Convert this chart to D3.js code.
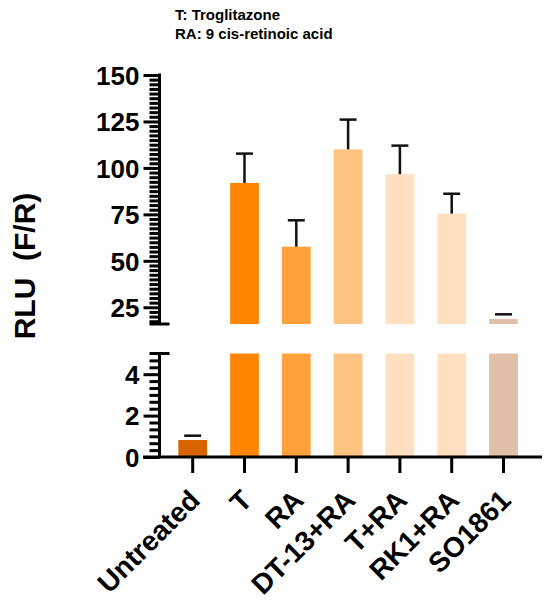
<!DOCTYPE html>
<html>
<head>
<meta charset="utf-8">
<script src="https://cdn.jsdelivr.net/npm/d3@7"></script>
<style>
  html, body { margin: 0; padding: 0; background: #fff; }
  svg text { font-family: "Liberation Sans", Arial, sans-serif; font-weight: bold; fill: #000; }
</style>
</head>
<body>
<svg id="chart" width="550" height="608"></svg>
<script>
// ---- data ----
const categories = ["Untreated", "T", "RA", "DT-13+RA", "T+RA", "RK1+RA", "SO1861"];
const means      = [0.82, 91.9, 57.6, 110, 96.6, 75.4, 18.7];
const errors     = [0.21, 15.8, 14.2, 16, 15.4, 10.7, 2.5];
const colors     = ["#d86400", "#ff8500", "#ffa13a", "#ffc381", "#ffdfbf", "#ffdfbf", "#e0bfa9"];
const upperTicks = [25, 50, 75, 100, 125, 150];
const lowerTicks = [0, 2, 4];
const legendLines = ["T: Troglitazone", "RA: 9 cis-retinoic acid"];
const yTitle = "RLU  (F/R)";

// ---- layout ----
const svg = d3.select("#chart");
const axisX = 159.5;
const x = d3.scaleBand().domain(categories).range([166.8, 529.4]).paddingInner(0.445).paddingOuter(0.2225);
const yU = d3.scaleLinear().domain([16, 150]).range([324, 75]);
const yL = d3.scaleLinear().domain([0, 5]).range([457, 353.5]);

const upperMinor = d3.range(17.5, 150.01, 2.5).filter(v => upperTicks.indexOf(v) < 0);
const lowerMinor = d3.range(1, 15).map(i => i / 3).filter(v => Math.abs(v - Math.round(v / 2) * 2) > 1e-6);

// bars: lower segment
svg.append("g").selectAll("rect").data(categories).join("rect")
  .attr("x", d => x(d))
  .attr("width", x.bandwidth())
  .attr("y", (d, i) => yL(Math.min(means[i], 5)))
  .attr("height", (d, i) => yL(0) - yL(Math.min(means[i], 5)))
  .attr("fill", (d, i) => colors[i]);

// bars: upper segment
svg.append("g").selectAll("rect").data(categories.filter((d, i) => means[i] > 16)).join("rect")
  .attr("x", d => x(d))
  .attr("width", x.bandwidth())
  .attr("y", d => yU(means[categories.indexOf(d)]))
  .attr("height", d => yU(16) - yU(means[categories.indexOf(d)]))
  .attr("fill", d => colors[categories.indexOf(d)]);

// error bars (upper only)
const eg = svg.append("g").attr("stroke", "#111").attr("stroke-width", 2.5);
categories.forEach((c, i) => {
  const ys = means[i] > 5 ? yU : yL;
  const cx = x(c) + x.bandwidth() / 2;
  const top = ys(means[i] + errors[i]);
  const bot = ys(means[i]);
  if (bot - top > 6) {
    eg.append("line").attr("x1", cx).attr("x2", cx).attr("y1", bot).attr("y2", top);
  }
  eg.append("line").attr("x1", cx - 8.5).attr("x2", cx + 8.5).attr("y1", top).attr("y2", top);
});

// y axes (minor ticks in own groups)
function yAxis(scale, minor, major, lo, hi) {
  const gm = svg.append("g").attr("transform", `translate(${axisX},0)`);
  gm.call(d3.axisLeft(scale).tickValues(minor).tickSize(10).tickSizeOuter(0).tickFormat(""));
  gm.selectAll(".domain").remove();
  const g = svg.append("g").attr("transform", `translate(${axisX},0)`);
  g.call(d3.axisLeft(scale).tickValues(major).tickSize(16).tickSizeOuter(0).tickPadding(4).tickFormat(d3.format("d")));
  g.selectAll(".domain").remove();
  g.append("line").attr("x1", 0).attr("x2", 0).attr("y1", scale(hi) - (hi === 150 ? 1.5 : 0)).attr("y2", scale(lo));
  [gm, g].forEach(gg => gg.selectAll("line").attr("stroke", "#000").attr("stroke-width", 3));
  g.selectAll(".tick text").attr("font-size", 26).attr("dy", "0.36em");
  return g;
}
const gU = yAxis(yU, upperMinor, upperTicks, 16, 150);
gU.append("line").attr("x1", -10).attr("x2", 10).attr("y1", yU(16)).attr("y2", yU(16)).attr("stroke", "#000").attr("stroke-width", 3);
const gL = yAxis(yL, lowerMinor, lowerTicks, 0, 5);
gL.append("line").attr("x1", -10).attr("x2", 10).attr("y1", yL(5)).attr("y2", yL(5)).attr("stroke", "#000").attr("stroke-width", 3);

// x axis
const gX = svg.append("g").attr("transform", `translate(0,${yL(0)})`);
gX.call(d3.axisBottom(x).tickSize(16).tickSizeOuter(0));
gX.selectAll(".domain").remove();
gX.append("line").attr("x1", 143).attr("x2", 542).attr("y1", 0).attr("y2", 0);
gX.selectAll("line").attr("stroke", "#000").attr("stroke-width", 3);
gX.selectAll(".tick text")
  .attr("font-size", 28)
  .attr("text-anchor", "end")
  .attr("y", 0).attr("dy", 0)
  .attr("transform", "translate(9,45) rotate(-45)");

// y title
svg.append("text")
  .attr("transform", `translate(35,266) rotate(-90)`)
  .attr("text-anchor", "middle")
  .attr("font-size", 30)
  .style("white-space", "pre")
  .text(yTitle);

// legend note
svg.append("g").selectAll("text").data(legendLines).join("text")
  .attr("x", 175)
  .attr("y", (d, i) => 20 + i * 19)
  .attr("font-size", 15)
  .text(d => d);
</script>
</body>
</html>
